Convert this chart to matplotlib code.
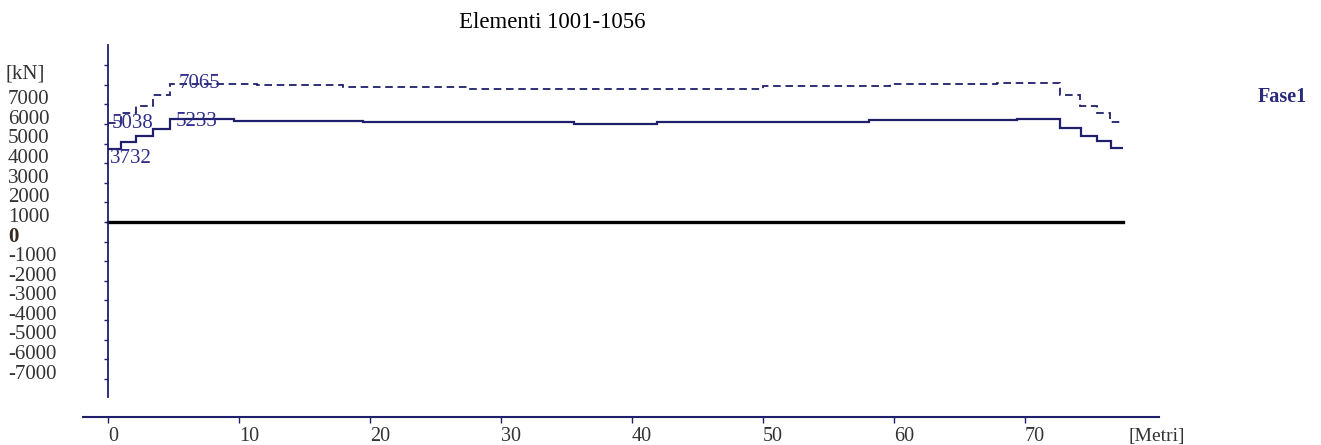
import matplotlib.pyplot as plt
import matplotlib.transforms as mtransforms
import numpy as np

plt.rcParams['font.family'] = ['Liberation Serif', 'DejaVu Serif']

# step edges [m] and values [kN]
solid_edges = [0, 1.0, 2.1, 3.4, 4.7, 9.6, 19.5, 35.6, 41.9, 58.1, 69.4, 72.7, 74.3, 75.5, 76.6, 77.5]
solid_vals = [3732, 4080, 4390, 4745, 5233, 5153, 5087, 5000, 5087, 5189, 5260, 4780, 4390, 4130, 3790]

dash_edges = [0, 1.0, 2.1, 3.4, 4.7, 11.4, 17.9, 27.4, 50.0, 59.7, 67.9, 72.7, 74.2, 75.5, 76.5, 77.4]
dash_vals = [5038, 5560, 5920, 6480, 7065, 6990, 6900, 6810, 6940, 7030, 7100, 6480, 5930, 5550, 5120]

x_ticks = [0, 10, 20, 30, 40, 50, 60, 70]
y_ticks = list(range(-8000, 8001, 1000))
y_labels = ['' if v == -8000 else ('[kN]' if v == 8000 else str(v)) for v in y_ticks]

navy = '#1f1f6b'
txt_blue = '#2e2e8a'

W, H = 1321, 445
fig = plt.figure(figsize=(W / 100, H / 100), dpi=100)
# axes box in pixels: x 83..1159, y 45..417
ax = fig.add_axes([83 / W, (H - 417) / H, (1159 - 83) / W, (417 - 45) / H])
ax.set_xlim(-1.91, 80.23)
ax.set_ylim(-9950, 9030)

ax.stairs(solid_vals, solid_edges, baseline=None, color=navy, linewidth=1.6)
ax.stairs(dash_vals, dash_edges, baseline=None, color=navy, linewidth=1.3,
          linestyle=(0, (4.2, 2.6)))
ax.plot([0, 77.5], [0, 0], color='black', linewidth=2.4)

# value labels
ax.text(5.4, 7065, '7065', color=txt_blue, fontsize=15, va='center', ha='left')
ax.text(0.3, 5038, '5038', color=txt_blue, fontsize=15, va='center', ha='left')
ax.text(5.2, 5130, '5233', color=txt_blue, fontsize=15, va='center', ha='left')
ax.text(0.15, 3732, '3732', color=txt_blue, fontsize=15, va='top', ha='left')

# spines
for s in ['top', 'right']:
    ax.spines[s].set_visible(False)
ax.spines['left'].set_position(('data', 0))
ax.spines['left'].set_bounds(-8930, 9030)
ax.spines['left'].set_color(navy)
ax.spines['left'].set_linewidth(1.3)
ax.spines['bottom'].set_color(navy)
ax.spines['bottom'].set_linewidth(1.5)

# x ticks
ax.set_xticks(x_ticks)
ax.set_xticklabels([str(v) for v in x_ticks], ha='left', fontsize=14.5, color='#333333')
ax.tick_params(axis='x', direction='out', length=4, width=1, color=navy, pad=3)

# y ticks: marks on the axis, labels in a column at the far left
ax.set_yticks(y_ticks)
ax.set_yticklabels([])
ax.tick_params(axis='y', direction='out', length=3, width=1, color=navy)
lab_tr = ax.get_yaxis_transform() + mtransforms.ScaledTranslation(0, -15 / 100, fig.dpi_scale_trans)
kn_tr = ax.get_yaxis_transform() + mtransforms.ScaledTranslation(0, -9 / 100, fig.dpi_scale_trans)
for v, lab in zip(y_ticks, y_labels):
    if v == 0:
        ax.text(-0.0697, v, lab, transform=lab_tr, ha='left', va='center',
                fontsize=15, color='#3b2a20', fontweight='bold')
    elif v == 8000:
        ax.text(-0.072, v, lab, transform=kn_tr, ha='left', va='center',
                fontsize=15, color='#333333')
    else:
        ax.text(-0.0697, v, lab, transform=lab_tr, ha='left', va='center',
                fontsize=15, color='#333333')

fig.text(552 / W, 1 - 22 / H, 'Elementi 1001-1056', ha='center', va='center',
         fontsize=16.5, color='black')
fig.text(1282 / W, 1 - 97 / H, 'Fase1', ha='center', va='center', fontsize=14.5,
         fontweight='bold', color='#2a2a7a')
fig.text(1157 / W, 1 - 437 / H, '[Metri]', ha='center', va='center', fontsize=14,
         color='#333333')

fig.savefig('out.png', dpi=100)
